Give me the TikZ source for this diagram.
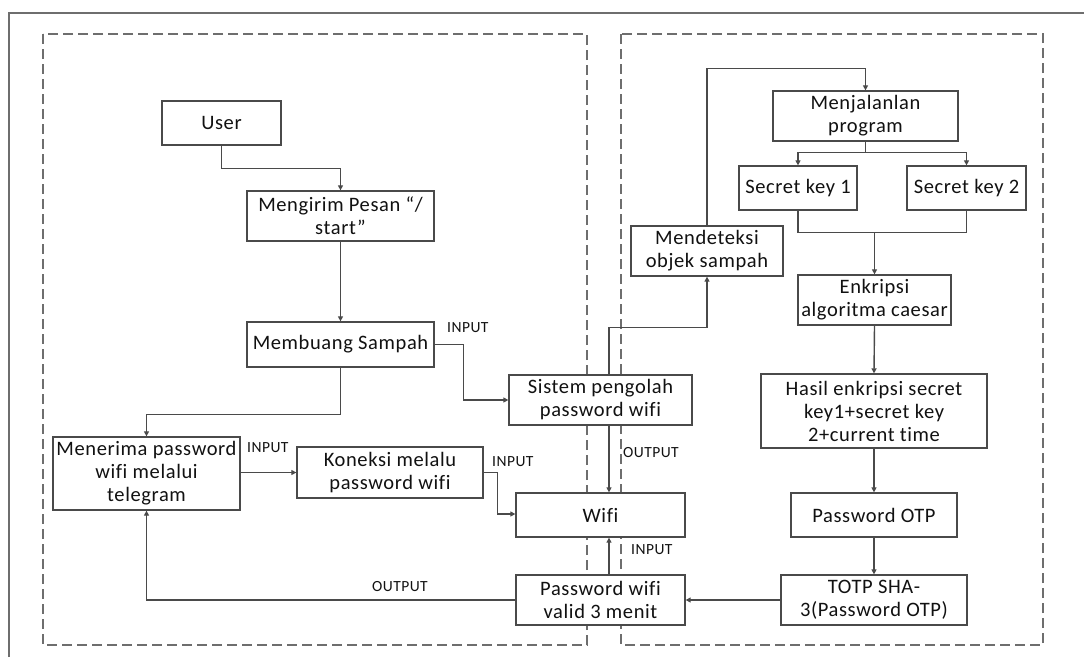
\documentclass[tikz,border=0pt]{standalone}
\usepackage{fontspec}
\setmainfont{Carlito}[LetterSpace=3, Ligatures=CommonOff]
\usetikzlibrary{arrows.meta}
\definecolor{linegray}{HTML}{4A4A4A}
\definecolor{framegray}{HTML}{6E6E6E}
\definecolor{textdark}{HTML}{111111}
\begin{document}
\begin{tikzpicture}[x=1pt,y=-1pt,
  box/.style={draw=linegray, line width=1.3pt, fill=white, text=textdark,
    align=center, inner sep=2pt,
    font=\fontsize{20.5}{23}\selectfont},
  flow/.style={draw=linegray, line width=1.4pt,
    -{Triangle[length=5pt,width=5pt]}},
  wire/.style={draw=linegray, line width=1.4pt},
  tag/.style={anchor=west, inner sep=0pt, text=textdark,
    font=\fontsize{15.5}{18}\selectfont},
  zone/.style={draw=framegray, line width=1.2pt, dash pattern=on 10pt off 5pt}
]
\useasboundingbox (0,0) rectangle (1084,657);

% outer frame (top and left edges)
\draw[framegray, line width=1.1pt] (9,657) -- (9,13) -- (1084,13);

% the two dashed zones
\draw[zone] (43,34) rectangle (587,645);
\draw[zone] (621,34) rectangle (1043,645);

% left zone
\node[box, minimum width=119pt, minimum height=44pt] (user)    at (221.5,123)   {User};
\node[box, minimum width=187pt, minimum height=50pt] (msg)     at (340.5,216)   {Mengirim Pesan ``/\\start''};
\node[box, minimum width=187pt, minimum height=45pt] (buang)   at (340.5,344.5) {Membuang Sampah};
\node[box, minimum width=187pt, minimum height=73pt] (terima)  at (146.5,473.5) {Menerima password\\wifi melalui\\telegram};
\node[box, minimum width=186pt, minimum height=51pt] (koneksi) at (390,472.5)   {Koneksi melalu\\password wifi};
\node[box, minimum width=183pt, minimum height=50pt] (sistem)  at (600.5,400)   {Sistem pengolah\\password wifi};
\node[box, minimum width=169pt, minimum height=44pt] (wifi)    at (600.5,515)   {Wifi};
\node[box, minimum width=169pt, minimum height=50pt] (valid)   at (600.5,600)   {Password wifi\\valid 3 menit};

% right zone
\node[box, minimum width=185pt, minimum height=50pt] (jalan)    at (865.5,116) {Menjalanlan\\program};
\node[box, minimum width=118pt, minimum height=44pt] (sk1)      at (798,188)   {Secret key 1};
\node[box, minimum width=119pt, minimum height=44pt] (sk2)      at (966.5,188) {Secret key 2};
\node[box, minimum width=152pt, minimum height=50pt] (deteksi)  at (707,251)   {Mendeteksi\\objek sampah};
\node[box, minimum width=153pt, minimum height=50pt] (enkripsi) at (874.5,300) {Enkripsi\\algoritma caesar};
\node[box, minimum width=226pt, minimum height=74pt] (hasil)    at (874,411)   {Hasil enkripsi secret\\key1+secret key\\2+current time};
\node[box, minimum width=166pt, minimum height=44pt] (otp)      at (874,515)   {Password OTP};
\node[box, minimum width=186pt, minimum height=50pt] (totp)     at (874,600)   {TOTP SHA-\\3(Password OTP)};

% connectors, left zone
\draw[flow] (user.south) -- ++(0,23) -| (msg.north);
\draw[flow] (msg.south) -- (buang.north);
\draw[flow] (buang.east) -- ++(29,0) |- (sistem.west);
\draw[flow] (buang.south) -- ++(0,47) -| (terima.north);
\draw[flow] (terima.east |- koneksi.west) -- (koneksi.west);
\draw[flow] (koneksi.east) -- ++(14,0) |- ([yshift=1pt]wifi.west);
\draw[flow] ([xshift=8.5pt]sistem.south) -- ([xshift=8.5pt]wifi.north);
\draw[flow] ([xshift=8.5pt]valid.north) -- ([xshift=8.5pt]wifi.south);
\draw[flow] (valid.west) -| (terima.south);
\draw[flow] (totp.west) -- (valid.east);

% connectors, right zone
\draw[flow] ([xshift=8.5pt]sistem.north) -- ++(0,-47) -| (deteksi.south);
\draw[flow] (deteksi.north) -- ++(0,-157) -| (jalan.north);
\draw[wire] (jalan.south) -- ++(0,11) coordinate (split);
\draw[flow] (split) -| (sk1.north);
\draw[flow] (split) -| (sk2.north);
\draw[wire] (sk1.south) -- ++(0,22) coordinate (merge) -| (sk2.south);
\draw[flow] (merge -| enkripsi.north) -- (enkripsi.north);
\draw[flow] (enkripsi.south) -- (hasil.north);
\draw[flow] (hasil.south) -- (otp.north);
\draw[flow] (otp.south) -- (totp.north);

% signal labels
\node[tag] (in1)  at (447,328) {INPUT};
\node[tag] (in2)  at (247,448) {INPUT};
\node[tag] (in3)  at (492,462) {INPUT};
\node[tag] (out1) at (623,453) {OUTPUT};
\node[tag] (in4)  at (631,550) {INPUT};
\node[tag] (out2) at (372,587) {OUTPUT};
\end{tikzpicture}
\end{document}
